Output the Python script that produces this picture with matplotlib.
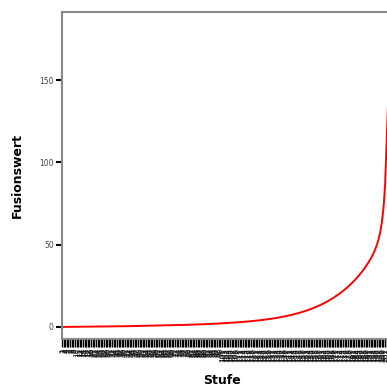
import numpy as np
import matplotlib
matplotlib.use('Agg')
import matplotlib.pyplot as plt

# Fusionswerte je Stufe
fusion = [
    0.02, 0.03, 0.04, 0.05, 0.05, 0.06, 0.07, 0.08, 0.09, 0.10, 0.11, 0.12, 0.13, 0.14, 0.15, 0.16, 0.17, 0.18, 0.19, 0.20,
    0.21, 0.22, 0.23, 0.25, 0.26, 0.27, 0.28, 0.30, 0.31, 0.32, 0.34, 0.35, 0.36, 0.38, 0.39, 0.41, 0.42, 0.44, 0.45, 0.47,
    0.48, 0.50, 0.51, 0.53, 0.55, 0.56, 0.58, 0.60, 0.61, 0.63, 0.65, 0.67, 0.69, 0.71, 0.73, 0.75, 0.77, 0.79, 0.81, 0.83,
    0.85, 0.87, 0.90, 0.92, 0.94, 0.97, 0.99, 1.02, 1.04, 1.07, 1.10, 1.12, 1.15, 1.18, 1.21, 1.24, 1.27, 1.30, 1.33, 1.36,
    1.40, 1.43, 1.46, 1.50, 1.54, 1.57, 1.61, 1.65, 1.69, 1.73, 1.77, 1.82, 1.86, 1.91, 1.95, 2.00, 2.05, 2.10, 2.15, 2.21,
    2.26, 2.32, 2.38, 2.44, 2.50, 2.57, 2.63, 2.70, 2.77, 2.84, 2.92, 3.00, 3.08, 3.16, 3.24, 3.33, 3.42, 3.51, 3.61, 3.71,
    3.81, 3.92, 4.03, 4.14, 4.26, 4.38, 4.51, 4.64, 4.78, 4.92, 5.07, 5.22, 5.38, 5.54, 5.71, 5.89, 6.07, 6.26, 6.46, 6.66,
    6.87, 7.09, 7.32, 7.56, 7.81, 8.06, 8.33, 8.61, 8.90, 9.20, 9.51, 9.83, 10.17, 10.52, 10.88, 11.26, 11.65, 12.06, 12.48, 12.92,
    13.38, 13.85, 14.34, 14.85, 15.38, 15.93, 16.50, 17.09, 17.70, 18.34, 19.00, 19.69, 20.40, 21.14, 21.91, 22.71, 23.54, 24.40, 25.30, 26.23,
    27.20, 28.21, 29.26, 30.36, 31.50, 32.70, 33.95, 35.26, 36.64, 38.10, 39.65, 41.30, 43.10, 45.10, 47.40, 50.10, 53.40, 57.60, 63.50, 72.00,
    86.00, 112.00, 140.00, 165.00, 182.00, 190.00,
]
stufen = list(range(1, len(fusion) + 1))
y_ticks = [0, 50, 100, 150]

fig = plt.figure(figsize=(3.87, 3.89), dpi=100)
# the chart is cut off at the right edge, so the axes ends there
ax = fig.add_axes([62 / 387, 1 - 339 / 389, 325 / 387, (339 - 12) / 389])

ax.plot(stufen, fusion, color='red', linewidth=1.4, clip_on=True)

ax.set_xlim(1, 202.2)
ax.set_ylim(-7.3, 191.3)

ax.set_yticks(y_ticks)
ax.set_yticklabels([str(v) for v in y_ticks], fontsize=5.5, color='#444444')
ax.set_xticks(stufen[:202])
ax.set_xticklabels([str(s) for s in stufen[:202]], rotation=90, fontsize=5.2, color='#111111')

ax.tick_params(axis='y', length=4, width=1.5, color='black', pad=2)
ax.tick_params(axis='x', length=5.5, width=1.0, color='black', pad=1)

for side in ['left', 'bottom', 'top']:
    ax.spines[side].set_color('#888888')
    ax.spines[side].set_linewidth(1.5)
ax.spines['right'].set_visible(False)

ax.set_ylabel('Fusionswert', fontsize=9, fontweight='bold', labelpad=11)
fig.text(222 / 387, 1 - 381 / 389, 'Stufe', fontsize=9, fontweight='bold',
         ha='center', va='center')

fig.savefig('out.png', dpi=100)
